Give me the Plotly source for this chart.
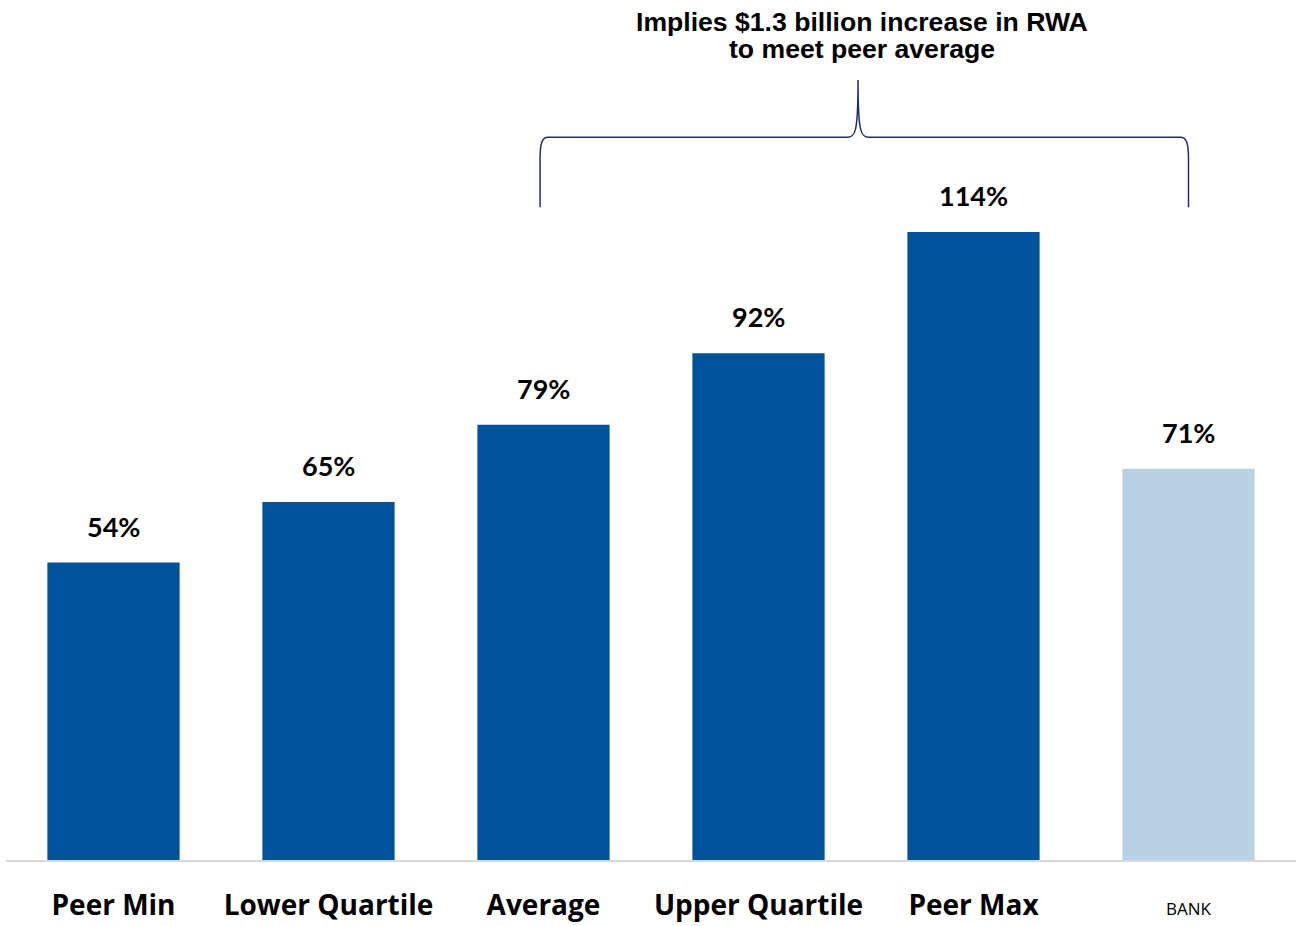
import plotly.graph_objects as go

categories = ["Peer Min", "Lower Quartile", "Average", "Upper Quartile", "Peer Max", "BANK"]
values = [54, 65, 79, 92, 114, 71]
bar_colors = ["#00539B", "#00539B", "#00539B", "#00539B", "#00539B", "#B9D1E5"]
label_texts = ["54%", "65%", "79%", "92%", "114%", "71%"]
tick_texts = ["<b>Peer Min</b>", "<b>Lower Quartile</b>", "<b>Average</b>",
              "<b>Upper Quartile</b>", "<b>Peer Max</b>",
              "<span style='font-size:17px'>BANK</span>"]
note_lines = ["Implies $1.3 billion increase in RWA", "to meet peer average"]

xs = list(range(len(categories)))

fig = go.Figure()
fig.add_trace(go.Bar(x=xs, y=values, marker=dict(color=bar_colors, line=dict(width=0)),
                     width=0.615, hoverinfo="skip"))

for x, v, t in zip(xs, values, label_texts):
    fig.add_annotation(x=x, y=v, text=f"<b>{t}</b>", showarrow=False,
                       yanchor="bottom", yshift=18,
                       font=dict(family="Lato", size=27, color="#000000"))

# brace from Average to BANK
yb, yh, yt = 118.5, 131.2, 141.6
xl, xr, xm = 1.984, 5.0, 3.463
path = (f"M {xl},{yb} L {xl},{yh-4} C {xl},{yh-1} {xl+0.01},{yh} {xl+0.037},{yh} "
        f"L {xm-0.047},{yh} C {xm-0.012},{yh} {xm},{yh+1.2} {xm},{yt} "
        f"C {xm},{yh+1.2} {xm+0.012},{yh} {xm+0.047},{yh} "
        f"L {xr-0.037},{yh} C {xr-0.01},{yh} {xr},{yh-1} {xr},{yh-4} L {xr},{yb}")
fig.add_shape(type="path", path=path, xref="x", yref="y",
              line=dict(color="#1F2F6B", width=1.5))

for i, line in enumerate(note_lines):
    fig.add_annotation(x=xm, y=1, xref="x", yref="paper", yanchor="middle",
                       yshift=-22 - 27 * i, xshift=4,
                       text=f"<b>{line}</b>", showarrow=False, align="center",
                       font=dict(family="Liberation Sans, Arial", size=26.6, color="#000000"))

fig.update_layout(
    width=1296, height=926,
    margin=dict(l=6, r=0, t=0, b=66),
    paper_bgcolor="white", plot_bgcolor="white",
    showlegend=False,
    xaxis=dict(range=[-0.5, 5.5], tickvals=xs, ticktext=tick_texts,
               showline=True, linecolor="#D9D9D9", linewidth=2,
               showgrid=False, zeroline=False, ticks="",
               ticklabelstandoff=19, automargin=False,
               tickfont=dict(family="Open Sans", size=28, color="#000000")),
    yaxis=dict(range=[0, 156.1], visible=False, showgrid=False, zeroline=False),
)

fig.write_html("out.html")
